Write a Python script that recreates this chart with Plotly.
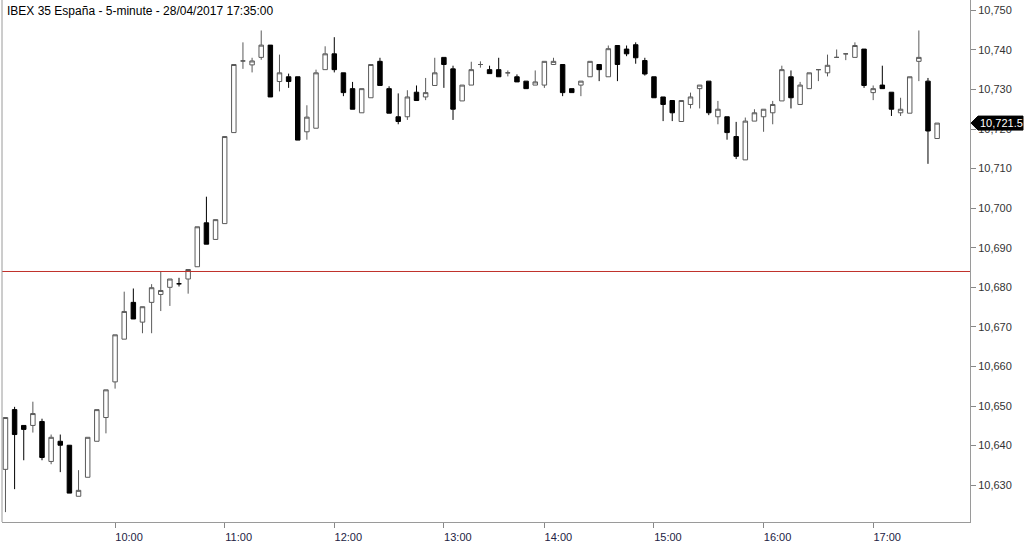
import plotly.graph_objects as go

title_text = "IBEX 35 España - 5-minute - 28/04/2017 17:35:00"

# 5-minute bar times (one bar between 13:00 and 14:00 is absent in the source)
times = [f"{h:02d}:{m:02d}" for h in range(9, 18) for m in range(0, 60, 5)
         if (h, m) <= (17, 35) and (h, m) != (13, 35)]

opens = [10634.0, 10649.1, 10645.1, 10645.1, 10646.1, 10636.0, 10641.1, 10640.1, 10627.2, 10632.0,
         10641.1, 10647.1, 10656.1, 10666.9, 10676.2, 10671.2, 10676.2, 10678.2, 10680.0, 10680.9,
         10682.1, 10685.2, 10696.3, 10692.1, 10696.1, 10719.1, 10737.2, 10736.2, 10738.1, 10741.2,
         10732.0, 10733.2, 10733.2, 10719.3, 10720.2, 10735.0, 10739.0, 10734.2, 10730.2, 10724.1,
         10727.9, 10737.1, 10730.2, 10723.1, 10723.1, 10729.3, 10728.1, 10731.0, 10738.1, 10735.2,
         10727.1, 10731.1, 10736.3, 10735.0, 10735.0, 10734.2, 10733.2, 10732.1, 10731.1, 10731.1,
         10736.3, 10736.3, 10730.2, 10731.1, 10733.2, 10736.3, 10733.2, 10741.1, 10740.2, 10741.3,
         10737.3, 10733.2, 10728.1, 10727.2, 10721.9, 10726.2, 10730.2, 10732.1, 10723.1, 10723.1,
         10718.1, 10712.2, 10722.0, 10723.1, 10724.1, 10727.1, 10733.2, 10726.2, 10730.2, 10735.0,
         10734.2, 10738.1, 10739.0, 10738.1, 10740.2, 10729.2, 10731.1, 10729.3, 10724.1, 10724.0,
         10737.1, 10732.1, 10717.6]
highs = [10647.1, 10649.8, 10645.1, 10651.1, 10646.8, 10642.8, 10642.8, 10640.1, 10633.8, 10642.1,
         10649.1, 10654.1, 10668.0, 10678.9, 10679.7, 10675.1, 10680.8, 10683.9, 10682.1, 10682.4,
         10684.5, 10695.3, 10702.9, 10697.1, 10718.1, 10736.3, 10741.9, 10738.0, 10744.9, 10741.2,
         10738.8, 10734.0, 10733.2, 10726.0, 10735.0, 10740.9, 10743.2, 10734.2, 10731.9, 10730.2,
         10736.3, 10738.0, 10730.8, 10729.0, 10729.8, 10731.0, 10732.9, 10738.0, 10738.1, 10736.0,
         10731.1, 10737.0, 10737.1, 10736.0, 10738.0, 10734.8, 10733.8, 10732.1, 10734.8, 10737.1,
         10738.0, 10736.3, 10730.2, 10732.1, 10737.1, 10736.3, 10741.1, 10741.1, 10741.1, 10741.9,
         10738.0, 10733.2, 10728.1, 10727.2, 10727.2, 10729.2, 10731.1, 10732.1, 10727.1, 10723.1,
         10721.8, 10722.9, 10725.0, 10725.0, 10727.1, 10736.0, 10734.8, 10731.9, 10734.2, 10735.0,
         10738.8, 10740.1, 10739.0, 10741.9, 10740.2, 10731.0, 10736.0, 10729.3, 10727.9, 10733.2,
         10744.9, 10732.9, 10721.5]
lows = [10623.2, 10629.0, 10636.3, 10643.3, 10636.3, 10635.3, 10633.3, 10628.0, 10627.2, 10632.0,
        10641.1, 10643.1, 10654.4, 10666.9, 10672.0, 10668.4, 10668.4, 10674.0, 10675.3, 10680.2,
        10678.4, 10685.2, 10690.9, 10692.1, 10696.1, 10719.1, 10735.2, 10734.3, 10737.5, 10728.1,
        10729.5, 10730.4, 10717.2, 10717.3, 10720.2, 10735.0, 10734.3, 10728.3, 10725.0, 10724.1,
        10727.9, 10731.0, 10724.0, 10721.2, 10722.3, 10727.2, 10727.3, 10731.0, 10730.4, 10722.3,
        10727.1, 10731.1, 10735.5, 10734.0, 10733.2, 10733.3, 10731.9, 10730.2, 10731.1, 10730.4,
        10736.3, 10728.3, 10729.2, 10728.3, 10733.2, 10732.1, 10733.2, 10732.1, 10738.4, 10736.5,
        10733.5, 10727.9, 10722.0, 10722.0, 10721.9, 10725.2, 10725.2, 10723.5, 10721.2, 10717.3,
        10712.4, 10712.2, 10722.0, 10719.3, 10721.2, 10727.1, 10725.2, 10726.2, 10730.2, 10732.1,
        10733.3, 10738.1, 10737.4, 10738.1, 10730.4, 10727.3, 10730.2, 10723.3, 10723.3, 10724.0,
        10732.1, 10711.2, 10717.6]
closes = [10647.1, 10642.8, 10644.1, 10648.1, 10637.0, 10642.1, 10640.1, 10628.0, 10628.7, 10642.1,
          10649.1, 10654.1, 10668.0, 10673.9, 10672.0, 10675.1, 10679.9, 10679.2, 10682.1, 10680.9,
          10684.5, 10695.3, 10690.9, 10697.1, 10718.1, 10736.3, 10737.2, 10737.2, 10741.2, 10728.1,
          10734.2, 10732.0, 10717.2, 10723.0, 10734.2, 10739.0, 10735.0, 10729.2, 10725.0, 10730.2,
          10736.3, 10731.0, 10724.0, 10721.9, 10728.1, 10727.2, 10729.2, 10734.2, 10736.3, 10725.0,
          10731.1, 10735.0, 10736.3, 10734.0, 10733.2, 10734.2, 10731.9, 10730.2, 10731.9, 10737.1,
          10737.1, 10729.2, 10729.2, 10732.1, 10737.1, 10735.0, 10740.3, 10736.3, 10739.0, 10738.0,
          10733.9, 10727.9, 10726.2, 10724.1, 10727.2, 10728.1, 10731.1, 10724.1, 10725.0, 10719.1,
          10713.1, 10722.0, 10724.1, 10725.0, 10726.2, 10735.0, 10727.9, 10731.1, 10734.2, 10735.0,
          10736.1, 10738.1, 10739.0, 10741.1, 10731.0, 10730.2, 10730.2, 10725.0, 10725.0, 10733.2,
          10738.1, 10719.5, 10721.5]

prev_close = 10684.0
last_price = 10721.5
y_ticks = [10630, 10640, 10650, 10660, 10670, 10680, 10690, 10700, 10710, 10720, 10730, 10740, 10750]
hour_labels = ["10:00", "11:00", "12:00", "13:00", "14:00", "15:00", "16:00", "17:00"]

fig = go.Figure()
fig.add_trace(go.Candlestick(
    x=times, open=opens, high=highs, low=lows, close=closes,
    increasing=dict(line=dict(color="#5a5a5a", width=1), fillcolor="#ffffff"),
    decreasing=dict(line=dict(color="#000000", width=1), fillcolor="#000000"),
    whiskerwidth=0, showlegend=False, hoverinfo="skip",
))

fig.add_hline(y=prev_close, line=dict(color="#c0302a", width=1))

# left frame line
fig.add_shape(type="line", xref="paper", yref="paper", x0=0, x1=0, y0=0, y1=1,
              line=dict(color="#9a9a9a", width=1))

# last price marker
fig.add_shape(type="path", xref="paper", yref="y", xsizemode="pixel", ysizemode="pixel",
              xanchor=1, yanchor=last_price,
              path="M 1,0 L 8,-7 L 53,-7 L 53,7 L 8,7 Z",
              fillcolor="#000000", line=dict(color="#000000", width=1), layer="above")
fig.add_annotation(xref="paper", yref="y", x=1, y=last_price, text=f"{last_price:,.1f}",
                   showarrow=False, xanchor="left", yanchor="middle", xshift=8,
                   font=dict(family="Liberation Sans, Arial, sans-serif", size=11, color="#ffffff"))

fig.add_annotation(xref="paper", yref="paper", x=0, y=1, xshift=3, yshift=-2,
                   text=title_text, showarrow=False, xanchor="left", yanchor="top",
                   font=dict(family="Liberation Sans, Arial, sans-serif", size=12, color="#000000"))

fig.update_layout(
    width=1024, height=543,
    margin=dict(l=2, r=54, t=0, b=18),
    paper_bgcolor="#ffffff", plot_bgcolor="#ffffff",
    font=dict(family="Liberation Sans, Arial, sans-serif", size=11, color="#222222"),
    xaxis=dict(
        type="category", range=[-0.38, 105.6], rangeslider=dict(visible=False),
        tickmode="array", tickvals=hour_labels, ticktext=hour_labels,
        ticks="outside", ticklen=5, tickcolor="#888888",
        showline=True, linecolor="#9a9a9a", linewidth=1,
        showgrid=False, zeroline=False, ticklabelshift=14, ticklabelstandoff=0,
        tickfont=dict(size=11, color="#222244"),
    ),
    yaxis=dict(
        side="right", range=[10620.7, 10752.6],
        tickmode="array", tickvals=y_ticks, tickformat=",d",
        ticks="outside", ticklen=5, tickcolor="#888888",
        showline=True, linecolor="#9a9a9a", linewidth=1,
        showgrid=False, zeroline=False,
        tickfont=dict(size=11, color="#333333"),
    ),
)

fig.write_html("out.html", config={"displayModeBar": False},
               post_script="document.body.style.margin='0';document.body.style.overflow='hidden';")
